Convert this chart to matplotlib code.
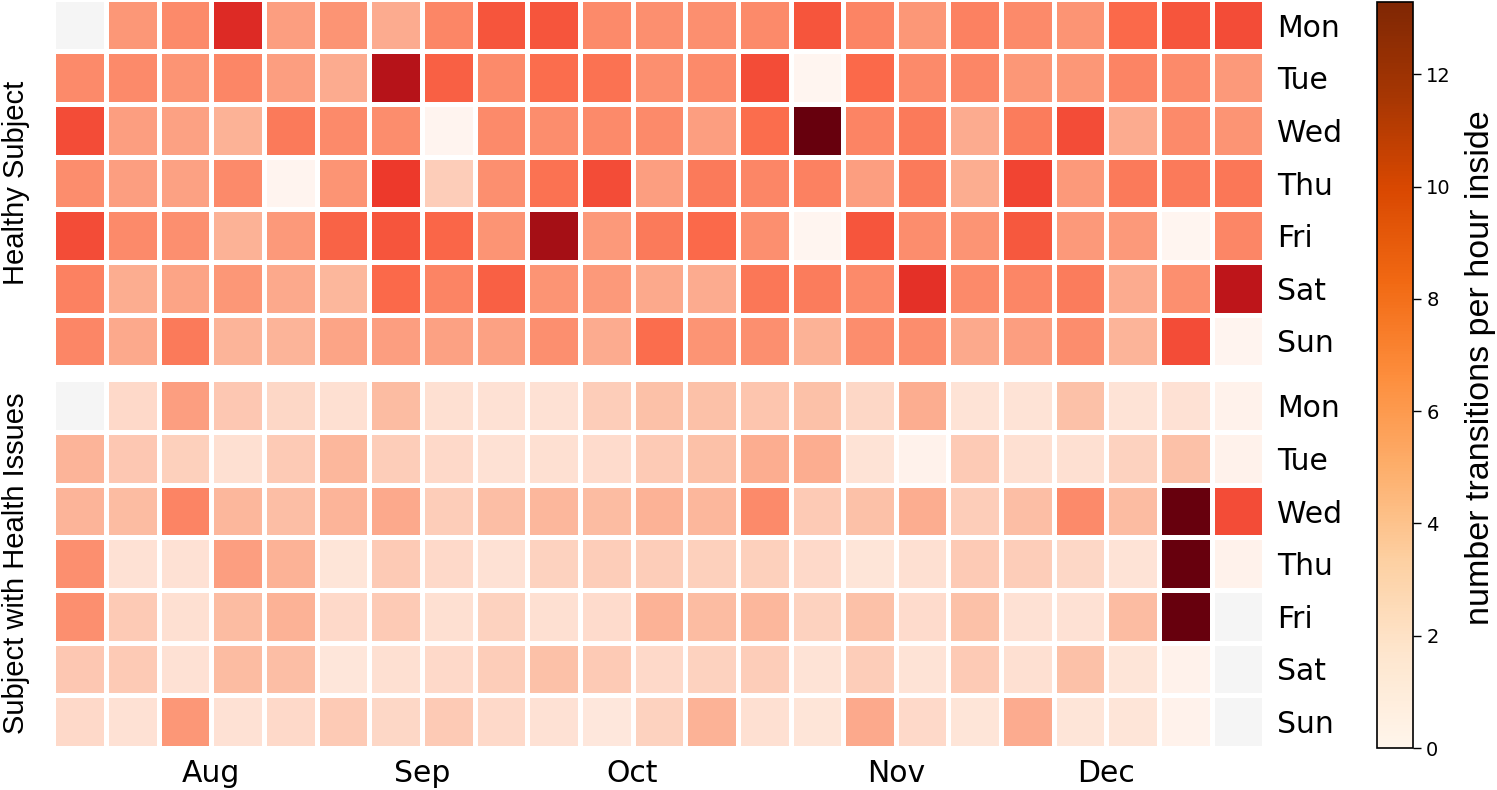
import numpy as np
import matplotlib
matplotlib.use("Agg")
import matplotlib.pyplot as plt
from matplotlib.colors import Normalize
from matplotlib.cm import ScalarMappable

# weekly calendar, 23 weeks (late Jul - Dec), rows Mon..Sun
days = ['Mon', 'Tue', 'Wed', 'Thu', 'Fri', 'Sat', 'Sun']
months = ['Aug', 'Sep', 'Oct', 'Nov', 'Dec']
month_weeks = [3, 7, 11, 16, 20]
nan = np.nan

healthy = [
    [nan, 4.8, 5.3, 9.1, 4.5, 4.9, 4.0, 5.5, 7.4, 7.4, 5.3, 5.1, 5.1, 5.3, 7.4, 5.6, 4.8, 5.7, 5.3, 4.9, 6.7, 7.4, 7.7],
    [5.3, 5.3, 4.9, 5.5, 4.5, 4.0, 10.9, 7.0, 5.3, 6.5, 6.3, 5.1, 5.3, 7.7, 0.0, 6.7, 5.3, 5.5, 4.8, 4.8, 5.6, 5.3, 4.7],
    [7.7, 4.5, 4.4, 3.7, 6.0, 5.3, 5.2, 0.1, 5.3, 5.2, 5.3, 5.3, 4.5, 6.5, 13.3, 5.6, 6.0, 4.0, 5.9, 7.7, 4.0, 5.3, 4.9],
    [5.2, 4.5, 4.4, 5.3, 0.1, 4.9, 8.4, 2.5, 5.1, 6.3, 7.7, 4.5, 6.0, 5.5, 5.7, 4.5, 6.0, 3.9, 8.0, 4.7, 6.0, 6.0, 6.1],
    [7.7, 5.3, 5.1, 3.7, 4.7, 6.9, 7.4, 6.8, 4.9, 11.6, 4.7, 6.0, 6.7, 5.1, 0.0, 7.4, 5.2, 4.9, 7.3, 4.7, 4.7, 0.0, 5.5],
    [5.7, 3.9, 4.3, 4.8, 4.1, 3.5, 6.7, 5.6, 7.0, 4.9, 4.7, 4.1, 4.0, 6.1, 5.9, 5.3, 8.8, 5.3, 5.5, 5.9, 4.0, 5.1, 10.5],
    [5.5, 4.1, 6.0, 3.6, 3.6, 4.3, 4.5, 4.4, 4.4, 5.1, 4.0, 6.5, 4.9, 5.1, 3.7, 5.2, 5.2, 4.1, 4.5, 5.2, 3.6, 7.7, 0.1],
]

issues = [
    [nan, 2.0, 4.5, 2.8, 2.1, 1.7, 3.3, 1.7, 1.6, 1.6, 2.5, 3.1, 3.1, 2.9, 3.1, 2.1, 3.9, 1.5, 1.5, 3.1, 1.5, 1.6, 0.3],
    [3.6, 2.8, 2.4, 1.7, 2.7, 3.5, 2.5, 2.0, 1.6, 1.7, 1.9, 2.7, 3.1, 3.9, 3.9, 1.5, 0.3, 2.7, 1.7, 1.7, 2.3, 3.1, 0.3],
    [3.6, 3.3, 5.6, 3.5, 3.2, 3.6, 4.1, 2.5, 3.2, 3.5, 3.3, 3.7, 3.5, 5.3, 2.7, 3.1, 3.9, 2.5, 3.2, 5.3, 3.3, 15.0, 7.7],
    [5.1, 1.6, 1.6, 4.5, 3.7, 1.3, 2.7, 2.0, 1.6, 2.3, 2.5, 2.5, 2.4, 2.4, 2.0, 1.3, 1.7, 2.7, 2.5, 2.1, 1.5, 15.0, 0.3],
    [5.1, 2.7, 1.7, 3.3, 3.7, 2.0, 2.7, 1.7, 2.3, 1.7, 1.9, 3.7, 3.3, 3.5, 2.3, 3.1, 1.9, 3.1, 1.6, 1.6, 3.3, 15.0, nan],
    [2.8, 2.7, 1.6, 3.3, 3.2, 1.2, 1.7, 2.0, 2.5, 3.1, 2.7, 2.0, 2.3, 2.5, 1.5, 2.5, 1.5, 2.7, 1.7, 3.1, 1.3, 0.3, nan],
    [2.0, 1.6, 4.8, 1.6, 2.0, 2.7, 2.1, 2.7, 2.0, 1.6, 1.1, 2.3, 3.7, 1.7, 1.3, 4.1, 2.0, 1.3, 4.0, 1.3, 1.3, 0.3, nan],
]

W, H = 1497, 790
fig = plt.figure(figsize=(W / 100, H / 100), dpi=100)

vmax = np.nanmax(healthy)
norm = Normalize(0, vmax)
cmap = plt.get_cmap('Reds').copy()
cmap.set_bad('whitesmoke')

# axes boxes in pixels (left, top, width, height)
def px_axes(l, t, w, h):
    return fig.add_axes([l / W, 1 - (t + h) / H, w / W, h / H])

ax_top = px_axes(53.4, -1.2, 1211, 368.5)
ax_bot = px_axes(53.4, 379.4, 1211, 368.5)

for ax, data, name in [(ax_top, healthy, 'Healthy Subject'),
                       (ax_bot, issues, 'Subject with Health Issues')]:
    arr = np.ma.masked_invalid(np.array(data))
    ax.pcolormesh(arr, cmap=cmap, norm=norm, edgecolors='white', linewidth=2.4)
    ax.set_xlim(0, arr.shape[1])
    ax.set_ylim(arr.shape[0], 0)
    for s in ax.spines.values():
        s.set_visible(False)
    ax.yaxis.tick_right()
    ax.set_yticks(np.arange(7) + 0.5)
    ax.set_yticklabels(days, fontsize=21.5)
    ax.tick_params(axis='y', length=0, pad=9)
    ax.set_xticks([])
    box = ax.get_position()
    fig.text(16 / W, box.y0 + box.height / 2, name, rotation=90, ha='center',
             va='center', fontsize=21, family='Liberation Sans')

ax_bot.set_xticks(month_weeks)
ax_bot.set_xticklabels(months, fontsize=21.5)
ax_bot.tick_params(axis='x', length=0, pad=8)

# colorbar
cax = px_axes(1377, 1.5, 36, 746.5)
sm = ScalarMappable(norm=norm, cmap='Oranges')
cb = fig.colorbar(sm, cax=cax)
cb.set_ticks(np.arange(0, 13, 2))
cb.ax.tick_params(labelsize=14, length=6, width=1)
cb.outline.set_linewidth(1.2)
fig.text(1481 / W, 1 - 368 / H, 'number transitions per hour inside', rotation=90,
         ha='center', va='center', fontsize=24.5, family='Liberation Sans')

plt.savefig('out.png', dpi=100)
